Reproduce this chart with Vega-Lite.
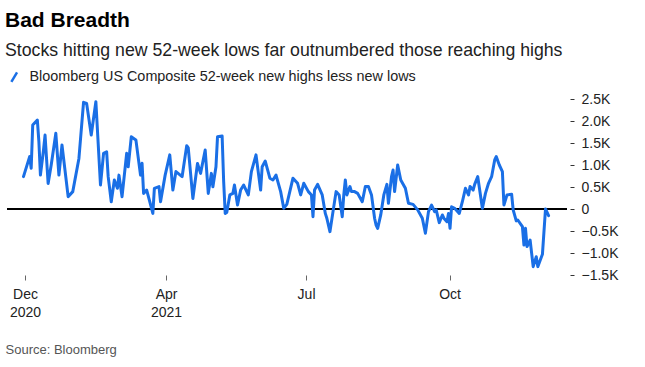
{
  "$schema": "https://vega.github.io/schema/vega-lite/v6.json",
  "width": 560,
  "height": 176,
  "autosize": "none",
  "padding": {"left": 7, "top": 99, "right": 78, "bottom": 92},
  "background": "white",
  "config": {
    "view": {"stroke": null},
    "font": "Liberation Sans"
  },
  "title": {
    "text": "Bad Breadth",
    "subtitle": "Stocks hitting new 52-week lows far outnumbered those reaching highs",
    "anchor": "start",
    "frame": "group",
    "dx": -2,
    "offset": 40,
    "dy": 30,
    "fontSize": 21,
    "fontWeight": "bold",
    "color": "#000000",
    "subtitleFontSize": 17.7,
    "subtitleColor": "#222222",
    "subtitlePadding": 11
  },
  "data": {
    "values": [
      {"date": "2020-12-31", "value": 735},
      {"date": "2021-01-04", "value": 1190},
      {"date": "2021-01-05", "value": 925},
      {"date": "2021-01-06", "value": 1910},
      {"date": "2021-01-09", "value": 2020},
      {"date": "2021-01-10", "value": 1530},
      {"date": "2021-01-11", "value": 770},
      {"date": "2021-01-13", "value": 1340},
      {"date": "2021-01-14", "value": 1680},
      {"date": "2021-01-16", "value": 580},
      {"date": "2021-01-18", "value": 1000},
      {"date": "2021-01-21", "value": 1720},
      {"date": "2021-01-23", "value": 770},
      {"date": "2021-01-25", "value": 1455},
      {"date": "2021-01-29", "value": 280},
      {"date": "2021-02-01", "value": 395},
      {"date": "2021-02-05", "value": 1150},
      {"date": "2021-02-08", "value": 2425},
      {"date": "2021-02-10", "value": 2400},
      {"date": "2021-02-13", "value": 1680},
      {"date": "2021-02-16", "value": 2440},
      {"date": "2021-02-19", "value": 545},
      {"date": "2021-02-21", "value": 1265},
      {"date": "2021-02-23", "value": 1300},
      {"date": "2021-02-24", "value": 735},
      {"date": "2021-02-26", "value": 165},
      {"date": "2021-02-28", "value": 660},
      {"date": "2021-03-02", "value": 470},
      {"date": "2021-03-03", "value": 770},
      {"date": "2021-03-05", "value": 280},
      {"date": "2021-03-08", "value": 1265},
      {"date": "2021-03-09", "value": 960},
      {"date": "2021-03-11", "value": 1640},
      {"date": "2021-03-14", "value": 1570},
      {"date": "2021-03-17", "value": 770},
      {"date": "2021-03-18", "value": 1040},
      {"date": "2021-03-19", "value": 355},
      {"date": "2021-03-21", "value": 430},
      {"date": "2021-03-23", "value": 165},
      {"date": "2021-03-25", "value": -100},
      {"date": "2021-03-26", "value": 470},
      {"date": "2021-03-29", "value": 510},
      {"date": "2021-03-30", "value": 165},
      {"date": "2021-04-02", "value": 770},
      {"date": "2021-04-05", "value": 1230},
      {"date": "2021-04-07", "value": 430},
      {"date": "2021-04-09", "value": 850},
      {"date": "2021-04-13", "value": 735},
      {"date": "2021-04-16", "value": 1440},
      {"date": "2021-04-17", "value": 1390},
      {"date": "2021-04-20", "value": 240},
      {"date": "2021-04-23", "value": 1035},
      {"date": "2021-04-25", "value": 810},
      {"date": "2021-04-28", "value": 1340},
      {"date": "2021-04-30", "value": 355},
      {"date": "2021-05-02", "value": 810},
      {"date": "2021-05-03", "value": 505},
      {"date": "2021-05-05", "value": 960},
      {"date": "2021-05-06", "value": 1640},
      {"date": "2021-05-09", "value": 1660},
      {"date": "2021-05-10", "value": 620},
      {"date": "2021-05-11", "value": -100},
      {"date": "2021-05-12", "value": -80},
      {"date": "2021-05-14", "value": 320},
      {"date": "2021-05-16", "value": 355},
      {"date": "2021-05-17", "value": 545},
      {"date": "2021-05-19", "value": 90},
      {"date": "2021-05-21", "value": 430},
      {"date": "2021-05-23", "value": 545},
      {"date": "2021-05-26", "value": 320},
      {"date": "2021-05-28", "value": 850},
      {"date": "2021-05-31", "value": 1230},
      {"date": "2021-06-03", "value": 430},
      {"date": "2021-06-04", "value": 960},
      {"date": "2021-06-06", "value": 1090},
      {"date": "2021-06-09", "value": 700},
      {"date": "2021-06-11", "value": 660},
      {"date": "2021-06-13", "value": 770},
      {"date": "2021-06-16", "value": 395},
      {"date": "2021-06-18", "value": 15},
      {"date": "2021-06-20", "value": 105},
      {"date": "2021-06-24", "value": 700},
      {"date": "2021-06-27", "value": 585},
      {"date": "2021-06-29", "value": 320},
      {"date": "2021-07-01", "value": 585},
      {"date": "2021-07-04", "value": 395},
      {"date": "2021-07-06", "value": 320},
      {"date": "2021-07-07", "value": -175},
      {"date": "2021-07-08", "value": 430},
      {"date": "2021-07-10", "value": 560},
      {"date": "2021-07-13", "value": 320},
      {"date": "2021-07-15", "value": -100},
      {"date": "2021-07-16", "value": -210},
      {"date": "2021-07-18", "value": -515},
      {"date": "2021-07-20", "value": -60},
      {"date": "2021-07-22", "value": 395},
      {"date": "2021-07-24", "value": 320},
      {"date": "2021-07-26", "value": -175},
      {"date": "2021-07-27", "value": 320},
      {"date": "2021-07-28", "value": 660},
      {"date": "2021-07-29", "value": 320},
      {"date": "2021-07-31", "value": 510},
      {"date": "2021-08-01", "value": 395},
      {"date": "2021-08-03", "value": 395},
      {"date": "2021-08-05", "value": 355},
      {"date": "2021-08-08", "value": 165},
      {"date": "2021-08-10", "value": 510},
      {"date": "2021-08-12", "value": 510},
      {"date": "2021-08-14", "value": 320},
      {"date": "2021-08-16", "value": -210},
      {"date": "2021-08-17", "value": -365},
      {"date": "2021-08-18", "value": -440},
      {"date": "2021-08-20", "value": -135},
      {"date": "2021-08-22", "value": 320},
      {"date": "2021-08-24", "value": 560},
      {"date": "2021-08-25", "value": 130},
      {"date": "2021-08-27", "value": 735},
      {"date": "2021-08-28", "value": 885},
      {"date": "2021-08-29", "value": 395},
      {"date": "2021-08-31", "value": 1000},
      {"date": "2021-09-02", "value": 660},
      {"date": "2021-09-05", "value": 470},
      {"date": "2021-09-07", "value": 130},
      {"date": "2021-09-10", "value": 105},
      {"date": "2021-09-13", "value": -20},
      {"date": "2021-09-16", "value": -210},
      {"date": "2021-09-18", "value": -550},
      {"date": "2021-09-20", "value": -60},
      {"date": "2021-09-22", "value": 90},
      {"date": "2021-09-24", "value": -60},
      {"date": "2021-09-25", "value": -20},
      {"date": "2021-09-27", "value": -310},
      {"date": "2021-09-29", "value": -135},
      {"date": "2021-09-30", "value": -210},
      {"date": "2021-10-02", "value": -290},
      {"date": "2021-10-03", "value": -100},
      {"date": "2021-10-04", "value": -440},
      {"date": "2021-10-05", "value": 50},
      {"date": "2021-10-07", "value": 15},
      {"date": "2021-10-10", "value": -100},
      {"date": "2021-10-12", "value": 165},
      {"date": "2021-10-14", "value": 470},
      {"date": "2021-10-16", "value": 320},
      {"date": "2021-10-17", "value": 510},
      {"date": "2021-10-19", "value": 430},
      {"date": "2021-10-20", "value": 560},
      {"date": "2021-10-22", "value": 735},
      {"date": "2021-10-25", "value": 15},
      {"date": "2021-10-27", "value": 355},
      {"date": "2021-10-29", "value": 585},
      {"date": "2021-10-31", "value": 735},
      {"date": "2021-11-02", "value": 1115},
      {"date": "2021-11-03", "value": 1190},
      {"date": "2021-11-05", "value": 1000},
      {"date": "2021-11-07", "value": 850},
      {"date": "2021-11-08", "value": 90},
      {"date": "2021-11-10", "value": 320},
      {"date": "2021-11-13", "value": 335},
      {"date": "2021-11-14", "value": -20},
      {"date": "2021-11-16", "value": -270},
      {"date": "2021-11-17", "value": -250},
      {"date": "2021-11-20", "value": -400},
      {"date": "2021-11-21", "value": -820},
      {"date": "2021-11-22", "value": -440},
      {"date": "2021-11-23", "value": -855},
      {"date": "2021-11-25", "value": -705},
      {"date": "2021-11-27", "value": -1310},
      {"date": "2021-11-29", "value": -1085},
      {"date": "2021-11-30", "value": -1310},
      {"date": "2021-12-03", "value": -1030},
      {"date": "2021-12-05", "value": 0},
      {"date": "2021-12-07", "value": -150}
    ]
  },
  "layer": [
    {
      "mark": {"type": "rule", "color": "#000000", "strokeWidth": 1},
      "encoding": {
        "y": {
          "datum": 0,
          "type": "quantitative",
          "scale": {"domain": [-1500, 2500], "nice": false, "zero": false},
          "axis": {
            "orient": "right",
            "values": [-1500, -1000, -500, 0, 500, 1000, 1500, 2000, 2500],
            "labelExpr": "datum.value == 0 ? '0' : format(datum.value / 1000, '.1f') + 'K'",
            "labelOverlap": false,
            "labelFlush": false,
            "domain": false,
            "grid": false,
            "offset": 3,
            "tickSize": 4,
            "tickColor": "#333333",
            "labelPadding": 7,
            "labelFontSize": 14,
            "labelColor": "#222222",
            "title": null
          }
        }
      }
    },
    {
      "mark": {"type": "line", "strokeWidth": 3, "strokeJoin": "round", "strokeCap": "round"},
      "encoding": {
        "x": {
          "field": "date",
          "type": "temporal",
          "scale": {
            "domain": [
              {"year": 2020, "month": 12, "date": 20, "hours": 7, "utc": true},
              {"year": 2021, "month": 12, "date": 18, "hours": 23, "utc": true}
            ]
          },
          "axis": {
            "values": [
              {"year": 2021, "month": 1, "date": 1, "utc": true},
              {"year": 2021, "month": 4, "date": 2, "hours": 14, "utc": true},
              {"year": 2021, "month": 7, "date": 2, "hours": 12, "utc": true},
              {"year": 2021, "month": 10, "date": 3, "hours": 16, "utc": true}
            ],
            "labelExpr": "utcmonth(datum.value) == 0 ? ['Dec', '2020'] : utcmonth(datum.value) == 3 ? ['Apr', '2021'] : utcmonth(datum.value) == 6 ? 'Jul' : 'Oct'",
            "domain": false,
            "grid": false,
            "ticks": true,
            "tickSize": 5,
            "tickColor": "#666666",
            "labelFontSize": 14,
            "labelColor": "#222222",
            "labelPadding": 7,
            "labelLineHeight": 18,
            "labelBaseline": "top",
            "labelFlush": false,
            "labelOverlap": false,
            "title": "Source: Bloomberg",
            "titleFontSize": 13,
            "titleFontWeight": "normal",
            "titleColor": "#555555",
            "titleAnchor": "start",
            "titleAlign": "left",
            "titleBaseline": "middle",
            "titleX": -2,
            "titleY": 74
          }
        },
        "y": {
          "field": "value",
          "type": "quantitative",
          "scale": {"domain": [-1500, 2500], "nice": false, "zero": false},
          "axis": {
            "orient": "right",
            "values": [-1500, -1000, -500, 0, 500, 1000, 1500, 2000, 2500],
            "labelExpr": "datum.value == 0 ? '0' : format(datum.value / 1000, '.1f') + 'K'",
            "labelOverlap": false,
            "labelFlush": false,
            "domain": false,
            "grid": false,
            "offset": 3,
            "tickSize": 4,
            "tickColor": "#333333",
            "labelPadding": 7,
            "labelFontSize": 14,
            "labelColor": "#222222",
            "title": null
          }
        },
        "color": {
          "datum": "Bloomberg US Composite 52-week new highs less new lows",
          "type": "nominal",
          "scale": {"range": ["#1a6fe6"]},
          "legend": {
            "orient": "none",
            "legendX": 0,
            "legendY": -29,
            "title": null,
            "padding": 0,
            "symbolType": "M-0.6,1L0.6,-1",
            "symbolSize": 90,
            "symbolStrokeWidth": 2.5,
            "labelFontSize": 14.4,
            "labelLimit": 0,
            "labelColor": "#222222",
            "labelOffset": 8
          }
        }
      }
    }
  ]
}
